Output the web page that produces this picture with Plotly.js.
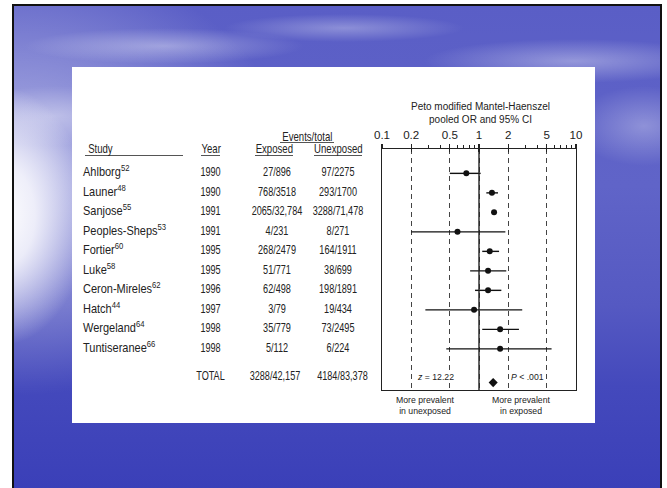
<!DOCTYPE html>
<html>
<head>
<meta charset="utf-8">
<script src="https://cdn.plot.ly/plotly-3.0.1.min.js"></script>
<style>
  html, body { margin:0; padding:0; background:#ffffff; width:667px; height:488px; overflow:hidden; }
  #slide {
    position:absolute; left:12px; top:4px; width:646px; height:490px;
    border-left:2px solid #111; border-top:2px solid #111; border-right:2px solid #111;
    background:
      radial-gradient(ellipse 90px 130px at -15px 210px, rgba(255,255,255,1), rgba(245,245,252,0.9) 40%, rgba(255,255,255,0) 100%),
      radial-gradient(ellipse 280px 220px at 0px 170px, rgba(255,255,255,0.55), rgba(255,255,255,0) 100%),
      radial-gradient(ellipse 140px 18px at 150px 40px, rgba(255,255,255,0.35), rgba(255,255,255,0) 100%),
      radial-gradient(ellipse 120px 14px at 330px 22px, rgba(255,255,255,0.3), rgba(255,255,255,0) 100%),
      radial-gradient(ellipse 150px 22px at 560px 55px, rgba(255,255,255,0.35), rgba(255,255,255,0) 100%),
      radial-gradient(ellipse 70px 40px at 630px 120px, rgba(255,255,255,0.3), rgba(255,255,255,0) 100%),
      radial-gradient(ellipse 90px 30px at 40px 110px, rgba(255,255,255,0.35), rgba(255,255,255,0) 100%),
      linear-gradient(to bottom, #5a5ec6 0px, #6064c8 180px, #5559c2 300px, #4449bc 380px, #3a3fb8 488px);
  }
  #panel { position:absolute; left:72px; top:67px; width:523px; height:356px; background:#ffffff; }
  #chart { position:absolute; left:0; top:0; width:667px; height:488px; }
  /* condensed look for the table text (horizontal squeeze of the rendered glyphs) */
  #chart .textpoint text { transform-box:fill-box; transform-origin:center; transform:scaleX(0.76); }
  #chart .textpoint text[style*="font-size: 12.5px"] { transform-origin:left center; transform:scaleX(0.88); }
  #chart .annotation-text[style*="font-size: 12px"] { transform-box:fill-box; transform-origin:center; transform:scaleX(0.8); }
</style>
</head>
<body>
<div id="slide"></div>
<div id="panel"></div>
<div id="chart"></div>
<script>
// ---------------- data ----------------
const studies    = ['Ahlborg','Launer','Sanjose','Peoples-Sheps','Fortier','Luke','Ceron-Mireles','Hatch','Wergeland','Tuntiseranee'];
const refNums    = ['52','48','55','53','60','58','62','44','64','66'];
const years      = ['1990','1990','1991','1991','1995','1995','1996','1997','1998','1998'];
const exposed    = ['27/896','768/3518','2065/32,784','4/231','268/2479','51/771','62/498','3/79','35/779','5/112'];
const unexposed  = ['97/2275','293/1700','3288/71,478','8/271','164/1911','38/699','198/1891','19/434','73/2495','6/224'];
const oddsRatio  = [0.74, 1.36, 1.43, 0.60, 1.29, 1.24, 1.24, 0.89, 1.65, 1.65];
const ciLow      = [0.50, 1.19, 1.35, 0.20, 1.08, 0.81, 0.91, 0.28, 1.08, 0.46];
const ciHigh     = [1.04, 1.57, 1.50, 1.87, 1.61, 1.91, 1.70, 2.79, 2.58, 5.60];
const totalLabel     = 'TOTAL';
const totalExposed   = '3288/42,157';
const totalUnexposed = '4184/83,378';
const totalOR        = 1.40;
const zText          = '<i>z</i> = 12.22';
const pText          = '<i>P</i> < .001';
const tickVals   = [0.1, 0.2, 0.5, 1, 2, 5, 10];
const tickText   = ['0.1','0.2','0.5','1','2','5','10'];
const minorTicks = [0.3, 0.4, 0.6, 0.7, 0.8, 0.9, 3, 4, 6, 7, 8, 9];

// ---------------- layout constants ----------------
const rows = studies.map((_, i) => i + 1);
const totalTextRow = 11.45;
const totalMarkRow = 11.73;
const col = { study: 83, year: 210.5, exp: 277, unexp: 338, totExp: 275, totUnexp: 342.5 };
const sans = '"Liberation Sans", Arial, Helvetica, sans-serif';
const ink = '#222222';
const nameFont = { family: sans, size: 12.5, color: ink };
const numFont  = { family: sans, size: 12, color: ink };
const hdrFont  = { family: sans, size: 12, color: ink };

const traces = [
  { type:'scatter', mode:'text', xaxis:'x2', yaxis:'y', cliponaxis:false, hoverinfo:'skip',
    x: rows.map(() => col.study), y: rows,
    text: studies.map((s, i) => s + '<sup>' + refNums[i] + '</sup>'),
    textposition:'middle right', textfont: nameFont },
  { type:'scatter', mode:'text', xaxis:'x2', yaxis:'y', cliponaxis:false, hoverinfo:'skip',
    x: rows.map(() => col.year), y: rows, text: years, textposition:'middle center', textfont: numFont },
  { type:'scatter', mode:'text', xaxis:'x2', yaxis:'y', cliponaxis:false, hoverinfo:'skip',
    x: rows.map(() => col.exp), y: rows, text: exposed, textposition:'middle center', textfont: numFont },
  { type:'scatter', mode:'text', xaxis:'x2', yaxis:'y', cliponaxis:false, hoverinfo:'skip',
    x: rows.map(() => col.unexp), y: rows, text: unexposed, textposition:'middle center', textfont: numFont },
  { type:'scatter', mode:'text', xaxis:'x2', yaxis:'y', cliponaxis:false, hoverinfo:'skip',
    x: [col.year, col.totExp, col.totUnexp], y: [totalTextRow, totalTextRow, totalTextRow],
    text: [totalLabel, totalExposed, totalUnexposed], textposition:'middle center', textfont: numFont },
  // forest plot points with 95% CI
  { type:'scatter', mode:'markers', xaxis:'x', yaxis:'y', cliponaxis:false, hoverinfo:'skip',
    x: oddsRatio, y: rows,
    error_x: { type:'data', symmetric:false,
               array: oddsRatio.map((v, i) => ciHigh[i] - v),
               arrayminus: oddsRatio.map((v, i) => v - ciLow[i]),
               width:0, thickness:1.4, color:'#111' },
    marker: { symbol:'circle', size:6, color:'#111' } },
  { type:'scatter', mode:'markers', xaxis:'x', yaxis:'y', cliponaxis:false, hoverinfo:'skip',
    x: [totalOR], y: [totalMarkRow], marker: { symbol:'diamond', size:7, color:'#111' } },
  { type:'scatter', mode:'markers', xaxis:'x3', yaxis:'y', hoverinfo:'skip',
    x: [totalOR], y: [totalMarkRow], marker: { size:1, color:'rgba(0,0,0,0)' } }
];

const xDom0 = (382 - 72) / 504;
const hdrY = (390 - 149) / 241;
const evY  = (390 - 136.5) / 241;
const ulY  = (390 - 155.5) / 241;
const evUlY = (390 - 142.5) / 241;

const hdr = (txt, x, y, anchor) => ({ text: txt, xref:'x2', yref:'paper', x: x, y: y,
  xanchor: anchor || 'center', yanchor:'middle', showarrow:false, font: hdrFont, borderpad:0 });
const ul = (x0, x1, y) => ({ type:'line', xref:'x2', yref:'paper', x0:x0, x1:x1, y0:y, y1:y,
  line:{ color:'#555', width:1 } });
const smallFont = { family: sans, size:8.7, color:'#222' };

const layout = {
  width:667, height:488,
  margin:{ l:72, r:91, t:149, b:98, pad:0 },
  paper_bgcolor:'rgba(0,0,0,0)', plot_bgcolor:'rgba(0,0,0,0)',
  showlegend:false,
  xaxis: { type:'log', range:[-1, 1], domain:[xDom0, 1], side:'top', anchor:'y',
    tickmode:'array', tickvals: tickVals, ticktext: tickText,
    ticks:'outside', ticklen:4, tickwidth:1.2, tickcolor:'#222',
    tickfont:{ family: sans, size:11.6, color:'#222' },
    showline:true, linecolor:'#222', linewidth:1.3, mirror:true,
    showgrid:true, gridcolor:'#444', gridwidth:1, griddash:'5px,4px',
    minor:{ tickmode:'array', tickvals: minorTicks, ticks:'outside', ticklen:3, tickwidth:1, tickcolor:'#222', showgrid:false },
    zeroline:false, fixedrange:true },
  xaxis3: { type:'log', range:[-1, 1], overlaying:'x', side:'top', anchor:'y',
    tickmode:'array', tickvals:[0.2, 0.5, 1, 2, 5], ticks:'inside', ticklen:3, tickwidth:1.2, tickcolor:'#222',
    showticklabels:false, showgrid:false, showline:false, zeroline:false, fixedrange:true },
  xaxis2: { range:[72, 72 + 0.6 * 504], domain:[0, 0.6], anchor:'y',
    showgrid:false, showline:false, zeroline:false, showticklabels:false, ticks:'', fixedrange:true },
  yaxis: { range:[12.11, -0.25], anchor:'x', showline:true, linecolor:'#222', linewidth:1.3, mirror:true,
    showgrid:false, zeroline:false, showticklabels:false, ticks:'', fixedrange:true },
  shapes: [
    { type:'line', xref:'x', yref:'paper', x0:1, x1:1, y0:0, y1:1, line:{ color:'#222', width:1.4 } },
    ul(85, 183, ulY), ul(201, 220, ulY), ul(255, 293, ulY), ul(314, 362, ulY), ul(280, 334, evUlY)
  ],
  annotations: [
    hdr('Study', 84, hdrY, 'left'), hdr('Year', 210.5, hdrY), hdr('Exposed', 274, hdrY),
    hdr('Unexposed', 338, hdrY), hdr('Events/total', 307, evY),
    { text:'Peto modified Mantel-Haenszel<br>pooled OR and 95% CI', xref:'x domain', yref:'paper',
      x:0.508, y:(390 - 113) / 241, xanchor:'center', yanchor:'middle', showarrow:false,
      font:{ family: sans, size:10, color:'#222' } },
    { text: zText, xref:'x domain', yref:'y', x:(435 - 382) / 193, y:totalTextRow, xanchor:'center', yanchor:'middle',
      showarrow:false, font: smallFont, bgcolor:'#ffffff', borderpad:0 },
    { text: pText, xref:'x domain', yref:'y', x:(527 - 382) / 193, y:totalTextRow, xanchor:'center', yanchor:'middle',
      showarrow:false, font: smallFont },
    { text:'More prevalent<br>in unexposed', xref:'x domain', yref:'paper', x:(425 - 382) / 193, y:(390 - 405) / 241,
      xanchor:'center', yanchor:'middle', showarrow:false, font: smallFont },
    { text:'More prevalent<br>in exposed', xref:'x domain', yref:'paper', x:(521 - 382) / 193, y:(390 - 405) / 241,
      xanchor:'center', yanchor:'middle', showarrow:false, font: smallFont }
  ]
};

Plotly.newPlot('chart', traces, layout, { staticPlot:true, displayModeBar:false });
</script>
</body>
</html>
